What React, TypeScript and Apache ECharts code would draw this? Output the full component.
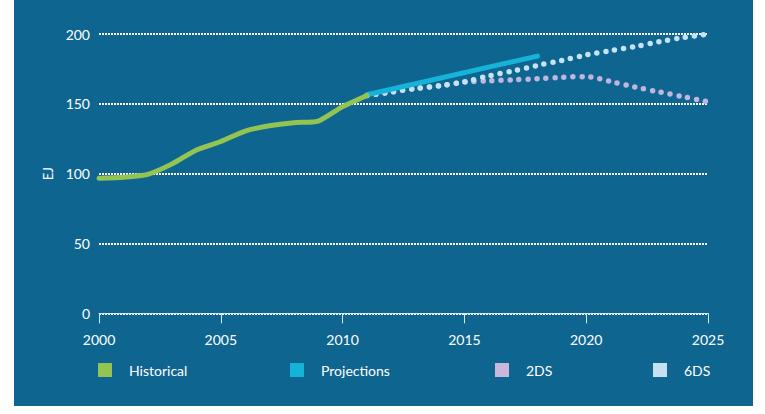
import React, { useEffect, useRef } from "react";
import * as echarts from "echarts";

const histYears = [2000, 2001, 2002, 2003, 2004, 2005, 2006, 2007, 2008, 2009, 2010, 2011];
const histValues = [96.7, 97.4, 99.5, 107, 117, 123, 130.5, 134.3, 136.5, 137.7, 148, 156];

const projYears = [2011, 2018];
const projValues = [156.5, 184.2];

const scenYears = [2011, 2012, 2013, 2014, 2015, 2016, 2017, 2018, 2019, 2020, 2021, 2022, 2023, 2024, 2025];
const ds2Values = [156, 158.5, 161, 163, 165.5, 166.5, 167.2, 168, 169, 169.5, 166, 162, 158.5, 155, 151.5];
const ds6Values = [156, 158.5, 161, 163, 165.8, 170, 173.5, 177.5, 181, 185, 188, 191, 194.5, 197.5, 200];

const yTicks = [0, 50, 100, 150, 200];
const xTicks = [2000, 2005, 2010, 2015, 2020, 2025];

const pairs = (xs: number[], ys: number[]) => xs.map((x, i) => [x, ys[i]]);

const BG = "#0e6590";
const FONT = "Lato, 'Open Sans', sans-serif";

export default function App() {
  const ref = useRef<HTMLDivElement>(null);
  useEffect(() => {
    if (!ref.current) return;
    const chart = echarts.init(ref.current, undefined, { renderer: "svg" });
    const legendBase = (name: string, left: number) => ({
      data: [name],
      left,
      top: 358,
      icon: "rect",
      itemWidth: 14,
      itemHeight: 14,
      selectedMode: false,
      textStyle: {
        color: "#ffffff",
        fontSize: 14,
        fontFamily: FONT,
        padding: [0, 0, 0, 12],
      },
    });
    chart.setOption({
      animation: false,
      backgroundColor: BG,
      textStyle: { fontFamily: FONT },
      grid: { left: 85, right: 45, top: 34, bottom: 92.7 },
      legend: [
        legendBase("Historical", 79),
        legendBase("Projections", 271),
        legendBase("2DS", 476),
        legendBase("6DS", 634),
      ],
      xAxis: {
        type: "value",
        min: 2000,
        max: 2025,
        interval: 5,
        axisLine: { show: true, lineStyle: { color: "#d6ecf5", width: 1 } },
        axisTick: { show: true, length: 10, lineStyle: { color: "#d6ecf5", width: 1 } },
        axisLabel: {
          color: "#ffffff",
          fontSize: 14,
          fontFamily: FONT,
          margin: 19,
          formatter: (v: number) => (xTicks.includes(v) ? String(v) : ""),
        },
        splitLine: { show: false },
      },
      yAxis: {
        type: "value",
        min: 0,
        max: 200,
        interval: 50,
        name: "EJ",
        nameLocation: "middle",
        nameGap: 42,
        nameTextStyle: { color: "#ffffff", fontSize: 13, fontFamily: FONT },
        axisLine: { show: false },
        axisTick: { show: false },
        axisLabel: {
          color: "#ffffff",
          fontSize: 14,
          fontFamily: FONT,
          margin: 9,
          formatter: (v: number) => (yTicks.includes(v) ? String(v) : ""),
        },
        splitLine: { show: true, lineStyle: { color: "#ffffff", width: 2, type: [2, 1] } },
      },
      series: [
        {
          name: "2DS",
          type: "line",
          data: pairs(scenYears, ds2Values),
          symbol: "none",
          smooth: 0.3,
          itemStyle: { color: "#c9b7dc" },
          lineStyle: { color: "#bfb5df", width: 5.5, type: [0, 9], cap: "round" },
          z: 2,
        },
        {
          name: "6DS",
          type: "line",
          data: pairs(scenYears, ds6Values),
          symbol: "none",
          smooth: 0.3,
          itemStyle: { color: "#c6e0ef" },
          lineStyle: { color: "#c6e3f5", width: 5.5, type: [0, 9], cap: "round" },
          z: 3,
        },
        {
          name: "Projections",
          type: "line",
          data: pairs(projYears, projValues),
          symbol: "none",
          itemStyle: { color: "#16b3d9" },
          lineStyle: { color: "#16b3d9", width: 5, cap: "round" },
          z: 4,
        },
        {
          name: "Historical",
          type: "line",
          data: pairs(histYears, histValues),
          symbol: "none",
          smooth: 0.2,
          itemStyle: { color: "#93c452" },
          lineStyle: { color: "#93c452", width: 5, cap: "round", join: "round" },
          z: 5,
        },
      ],
    });
    return () => chart.dispose();
  }, []);
  return (
    <div
      ref={ref}
      style={{ position: "absolute", left: 14, top: 0, width: 739, height: 406 }}
    />
  );
}
